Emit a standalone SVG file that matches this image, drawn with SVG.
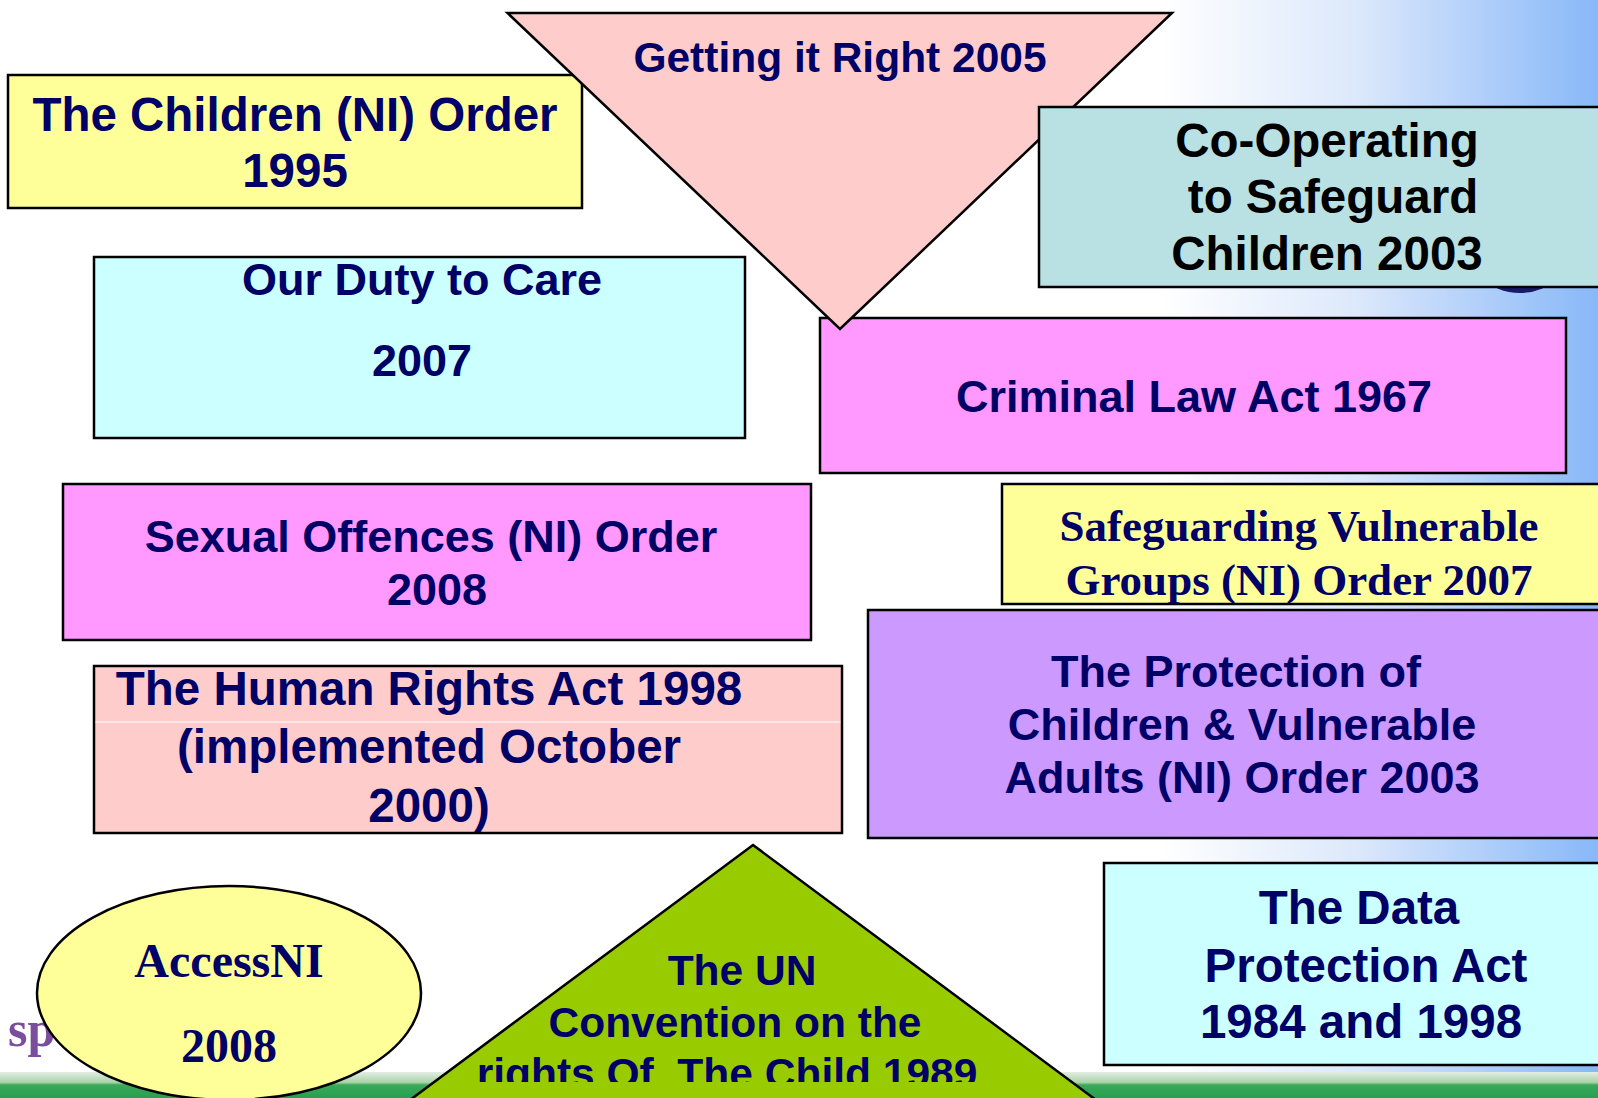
<svg xmlns="http://www.w3.org/2000/svg" width="1598" height="1098" viewBox="0 0 1598 1098">
<defs>
<linearGradient id="bgGrad" gradientUnits="userSpaceOnUse" x1="1160" y1="0" x2="1598" y2="0">
<stop offset="0" stop-color="#ffffff"/>
<stop offset="0.45" stop-color="#dce8fb"/>
<stop offset="1" stop-color="#88b8f8"/>
</linearGradient>
<linearGradient id="greenGrad" gradientUnits="userSpaceOnUse" x1="0" y1="1072" x2="0" y2="1098">
<stop offset="0" stop-color="#e4eee4"/>
<stop offset="0.4" stop-color="#a8d4a8"/>
<stop offset="0.5" stop-color="#3aa85a"/>
<stop offset="1" stop-color="#26a050"/>
</linearGradient>
<clipPath id="unClip"><rect x="0" y="0" width="1598" height="1082"/></clipPath>
<style>
.box{stroke:#000000;stroke-width:2.5}
.t{font-family:"Liberation Sans",Arial,sans-serif;font-weight:bold;fill:#000066;text-anchor:middle}
.s{font-family:"Liberation Serif","Times New Roman",serif;font-weight:bold;fill:#000066;text-anchor:middle}
.k{fill:#000000}
</style>
</defs>
<g id="background">
<rect x="0" y="0" width="1598" height="1098" fill="#ffffff"/>
<rect x="0" y="0" width="1598" height="1098" fill="url(#bgGrad)"/>
<rect x="0" y="1072" width="1598" height="26" fill="url(#greenGrad)"/>
<text x="8" y="1046" font-family="'Liberation Serif',serif" font-weight="bold" font-size="50" fill="#7a4e9c">sp</text>
<circle cx="1520" cy="236" r="57" fill="#1a1a6a"/>
</g>
<g id="connectors"/>
<g id="children-order-1995">
<rect class="box" x="8" y="75" width="574" height="133" fill="#ffff99"/>
<text class="t" x="295" y="131" font-size="47.5">The Children (NI) Order</text>
<text class="t" x="295" y="187" font-size="47.5">1995</text>
</g>
<g id="our-duty-to-care-2007">
<rect class="box" x="94" y="257" width="651" height="181" fill="#ccffff"/>
<text class="t" x="422" y="295" font-size="45">Our Duty to Care</text>
<text class="t" x="422" y="376" font-size="45">2007</text>
</g>
<g id="criminal-law-act-1967">
<rect class="box" x="820" y="318" width="746" height="155" fill="#ff99ff"/>
<text class="t" x="1194" y="412" font-size="45">Criminal Law Act 1967</text>
</g>
<g id="getting-it-right-2005">
<polygon class="box" points="507.5,13 1172,13 840,329" fill="#ffcccc"/>
<text class="t" x="840" y="72" font-size="42.5">Getting it Right 2005</text>
</g>
<g id="co-operating-to-safeguard-children-2003">
<rect class="box" x="1039" y="107" width="580" height="180" fill="#b9e0e3"/>
<text class="t k" x="1327" y="157" font-size="47.5">Co-Operating</text>
<text class="t k" x="1333" y="213" font-size="47.5">to Safeguard</text>
<text class="t k" x="1327" y="270" font-size="47.5">Children 2003</text>
</g>
<g id="safeguarding-vulnerable-groups-2007">
<rect class="box" x="1002" y="484" width="620" height="120" fill="#ffff99"/>
<text class="s" x="1299" y="541" font-size="45">Safeguarding Vulnerable</text>
<text class="s" x="1299" y="595" font-size="45">Groups (NI) Order 2007</text>
</g>
<g id="protection-of-children-vulnerable-adults-2003">
<rect class="box" x="868" y="610" width="750" height="228" fill="#cc99ff"/>
<text class="t" x="1236" y="687" font-size="45">The Protection of</text>
<text class="t" x="1242" y="740" font-size="45">Children &amp; Vulnerable</text>
<text class="t" x="1242" y="793" font-size="45">Adults (NI) Order 2003</text>
</g>
<g id="sexual-offences-order-2008">
<rect class="box" x="63" y="484" width="748" height="156" fill="#ff99ff"/>
<text class="t" x="431" y="552" font-size="45">Sexual Offences (NI) Order</text>
<text class="t" x="437" y="605" font-size="45">2008</text>
</g>
<g id="human-rights-act-1998">
<rect class="box" x="94" y="666" width="748" height="167" fill="#ffcccc"/>
<line x1="95.5" y1="722" x2="840.5" y2="722" stroke="#ffffff" stroke-width="1.2"/>
<text class="t" x="429" y="705" font-size="47.5">The Human Rights Act 1998</text>
<text class="t" x="429" y="763" font-size="47.5">(implemented October</text>
<text class="t" x="429" y="822" font-size="47.5">2000)</text>
</g>
<g id="data-protection-act">
<rect class="box" x="1104" y="863" width="520" height="202" fill="#ccffff"/>
<text class="t" x="1359" y="924" font-size="47.5">The Data</text>
<text class="t" x="1366" y="982" font-size="47.5">Protection Act</text>
<text class="t" x="1361" y="1038" font-size="47.5">1984 and 1998</text>
</g>
<g id="accessni-2008">
<ellipse class="box" cx="229" cy="993" rx="192" ry="107" fill="#ffff99"/>
<text class="s" x="229" y="977" font-size="48">AccessNI</text>
<text class="s" x="229" y="1062" font-size="48">2008</text>
</g>
<g id="un-convention-rights-of-the-child-1989">
<polygon class="box" points="753,845 1096,1100 410,1100" fill="#99cc00"/>
<g clip-path="url(#unClip)">
<text class="t" x="742" y="985" font-size="42.5">The UN</text>
<text class="t" x="735" y="1037" font-size="42.5">Convention on the</text>
<text class="t" x="727" y="1088" font-size="42.5">rights Of&#160; The Child 1989</text>
</g>
</g>
</svg>
